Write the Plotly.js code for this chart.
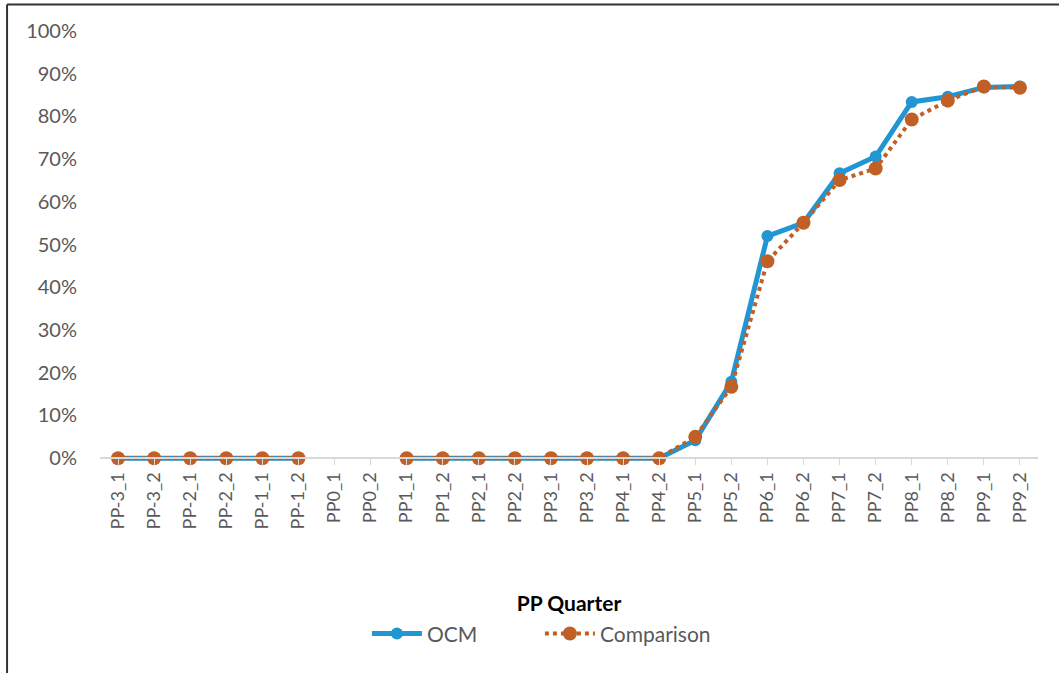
<!DOCTYPE html>
<html><head><meta charset="utf-8">
<script src="https://cdn.plot.ly/plotly-3.0.1.min.js"></script>
<style>html,body{margin:0;padding:0;background:#fff}#c{width:1059px;height:673px}</style>
</head><body><div id="c"></div>
<script>
const categories = ["PP-3_1","PP-3_2","PP-2_1","PP-2_2","PP-1_1","PP-1_2","PP0_1","PP0_2","PP1_1","PP1_2","PP2_1","PP2_2","PP3_1","PP3_2","PP4_1","PP4_2","PP5_1","PP5_2","PP6_1","PP6_2","PP7_1","PP7_2","PP8_1","PP8_2","PP9_1","PP9_2"];
const ocm = [0,0,0,0,0,0,null,null,0,0,0,0,0,0,0,0,0.042,0.179,0.52,0.551,0.667,0.706,0.834,0.846,0.868,0.870];
const comparison = [0,0,0,0,0,0,null,null,0,0,0,0,0,0,0,0,0.05,0.167,0.461,0.551,0.651,0.678,0.793,0.837,0.870,0.867];
const yTicks = [0,0.1,0.2,0.3,0.4,0.5,0.6,0.7,0.8,0.9,1.0];

const FONT = "Lato, 'Open Sans', sans-serif";
const yMin = -0.03;
const data = [
  {x: categories, y: ocm, name: "OCM", type: "scatter", mode: "lines+markers", cliponaxis: false,
   line: {color: "#2196d3", width: 5}, marker: {color: "#2196d3", size: 12}, connectgaps: false},
  {x: categories, y: comparison, name: "Comparison", type: "scatter", mode: "lines+markers", cliponaxis: false,
   line: {color: "#c05f26", width: 4, dash: "dot"}, marker: {color: "#c05f26", size: 14}, connectgaps: false}
];
const layout = {
  width: 1059, height: 673,
  margin: {l: 100, r: 21, t: 31, b: 202},
  paper_bgcolor: "#fff", plot_bgcolor: "#fff",
  font: {family: FONT, color: "#595959", size: 18},
  showlegend: true,
  legend: {orientation: "h", x: 0.469, xanchor: "center", y: -0.37, yanchor: "middle",
           font: {family: FONT, size: 21, color: "#595959"}, itemwidth: 50,
           entrywidth: 108, entrywidthmode: "pixels", tracegroupgap: 0},
  xaxis: {type: "category", categoryorder: "array", categoryarray: categories,
          range: [-0.5, categories.length - 0.5], tickangle: -90,
          anchor: "free", position: -yMin / (1 - yMin),
          showline: true, linecolor: "#d9d9d9", linewidth: 2, showgrid: false, zeroline: false,
          ticks: "outside", ticklen: 6, tickcolor: "#d9d9d9", tickwidth: 1,
          tickfont: {family: FONT, size: 18, color: "#595959"},
          title: {text: "<b>PP Quarter</b>", font: {family: FONT, size: 21, color: "#000"}, standoff: 67}},
  yaxis: {range: [yMin, 1], tickvals: yTicks, tickformat: ".0%", showgrid: false, zeroline: false,
          showline: false, ticks: "", ticklabelstandoff: 22,
          tickfont: {family: FONT, size: 20, color: "#595959"}},
  shapes: [
    {type: "line", xref: "paper", yref: "paper", x0: -0.0991, x1: -0.0991, y0: -0.5, y1: 1.06,
     line: {color: "#333", width: 2}},
    {type: "line", xref: "paper", yref: "paper", x0: -0.0991, x1: 1.03, y0: 1.06, y1: 1.06,
     line: {color: "#333", width: 2}}
  ]
};
Plotly.newPlot("c", data, layout, {displayModeBar: false, staticPlot: true});
</script></body></html>
